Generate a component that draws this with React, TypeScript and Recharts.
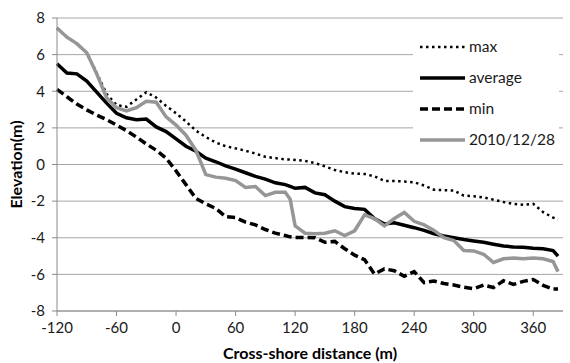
import { LineChart, Line, XAxis, YAxis, CartesianGrid, Legend } from "recharts"

const distance = [
  -120, -110, -100, -90, -80, -70, -60, -50, -40, -30, -20, -10, 0, 10, 20, 30, 40, 50, 60, 70, 80, 90, 100, 110, 115,
  120, 130, 140, 150, 160, 170, 180, 190, 200, 210, 220, 230, 240, 250, 260, 270, 280, 290, 300, 310, 320, 330, 340,
  350, 360, 370, 380, 385,
]

const maxElev = [
  7.45, 6.95, 6.6, 6.1, 5.0, 3.85, 3.25, 3.15, 3.55, 3.95, 3.65, 3.2, 2.8, 2.35, 1.85, 1.5, 1.2, 1.0, 0.88, 0.75, 0.6,
  0.42, 0.35, 0.28, 0.27, 0.25, 0.2, 0.08, -0.1, -0.3, -0.42, -0.5, -0.52, -0.65, -0.9, -0.9, -0.93, -0.97, -1.15,
  -1.38, -1.4, -1.42, -1.7, -1.73, -1.8, -1.92, -2.05, -2.15, -2.2, -2.15, -2.6, -2.9, -3.0,
]

const avgElev = [
  5.5, 5.0, 4.95, 4.55, 3.95, 3.35, 2.8, 2.55, 2.45, 2.48, 2.05, 1.8, 1.4, 1.0, 0.72, 0.35, 0.15, -0.08, -0.25, -0.45,
  -0.65, -0.8, -1.0, -1.1, -1.2, -1.3, -1.25, -1.55, -1.65, -2.0, -2.3, -2.4, -2.45, -2.95, -3.25, -3.18, -3.32, -3.45,
  -3.6, -3.78, -3.9, -4.0, -4.1, -4.18, -4.25, -4.35, -4.45, -4.5, -4.52, -4.57, -4.6, -4.7, -5.0,
]

const minElev = [
  4.1, 3.7, 3.3, 2.98, 2.7, 2.45, 2.15, 1.85, 1.5, 1.12, 0.78, 0.35, -0.35, -1.1, -1.85, -2.15, -2.4, -2.85, -2.9,
  -3.15, -3.3, -3.55, -3.75, -3.88, -3.95, -3.98, -3.98, -4.0, -4.25, -4.2, -4.6, -4.95, -5.2, -5.98, -5.7, -5.8, -6.1,
  -5.85, -6.45, -6.36, -6.5, -6.58, -6.7, -6.78, -6.58, -6.72, -6.35, -6.55, -6.38, -6.28, -6.6, -6.8, -6.8,
]

const survey20101228 = [
  7.45, 6.95, 6.6, 6.1, 4.95, 3.65, 3.1, 2.93, 3.1, 3.45, 3.4, 2.6, 2.15, 1.6, 0.77, -0.55, -0.69, -0.75, -0.88, -1.25,
  -1.2, -1.7, -1.52, -1.52, -1.9, -3.35, -3.75, -3.78, -3.75, -3.62, -3.88, -3.62, -2.75, -2.95, -3.35, -2.95, -2.62,
  -3.1, -3.3, -3.6, -4.0, -4.15, -4.7, -4.72, -4.9, -5.35, -5.15, -5.1, -5.15, -5.1, -5.15, -5.3, -5.85,
]

const xTicks = [-120, -60, 0, 60, 120, 180, 240, 300, 360]
const yTicks = [-8, -6, -4, -2, 0, 2, 4, 6, 8]

const data = distance.map((x, i) => ({
  x,
  max: maxElev[i],
  average: avgElev[i],
  min: minElev[i],
  survey: survey20101228[i],
}))

const FONT = "Lato, 'Open Sans', sans-serif"
const tickStyle = { fontSize: 15, fill: "#1a1a1a", fontFamily: FONT }
const titleStyle = { fontSize: 16, fontWeight: 700, fill: "#000", fontFamily: FONT }

const legendItems = [
  { label: "max", color: "#000", width: 2.5, dash: "2.5 3.5" },
  { label: "average", color: "#000", width: 3.5, dash: undefined },
  { label: "min", color: "#000", width: 3.5, dash: "8 4" },
  { label: "2010/12/28", color: "#969696", width: 3.5, dash: undefined },
]

function ChartLegend() {
  return (
    <svg width={146} height={128} style={{ display: "block" }}>
      {legendItems.map((item, i) => {
        const y = 19 + i * 31
        return (
          <g key={item.label}>
            <line x1={7} x2={52} y1={y} y2={y} stroke={item.color} strokeWidth={item.width} strokeDasharray={item.dash} />
            <text x={56} y={y + 5} fontSize={15.5} fontFamily={FONT} fill="#1a1a1a">
              {item.label}
            </text>
          </g>
        )
      })}
    </svg>
  )
}

function YTitle(props: any) {
  const vb = props.viewBox || { x: 0, y: 0, height: 0 }
  const cx = 15
  const cy = vb.y + vb.height / 2
  return (
    <text x={cx} y={cy} transform={`rotate(-90, ${cx}, ${cy})`} textAnchor="middle" dominantBaseline="central" style={titleStyle}>
      Elevation(m)
    </text>
  )
}

export default function App() {
  return (
    <div style={{ position: "fixed", left: 0, top: 0, width: 570, height: 363, background: "#fff" }}>
      <LineChart width={570} height={363} data={data} margin={{ top: 18, right: 7, left: 0, bottom: 0 }}>
        <CartesianGrid vertical={false} stroke="#a6a6a6" strokeWidth={1} />
        <XAxis
          dataKey="x"
          type="number"
          domain={[-120, 390]}
          ticks={xTicks}
          interval={0}
          height={52}
          tickSize={5}
          tickMargin={6}
          stroke="#8c8c8c"
          tick={tickStyle}
          label={{ value: "Cross-shore distance (m)", position: "insideBottom", offset: 4, style: titleStyle }}
        />
        <YAxis
          type="number"
          domain={[-8, 8]}
          ticks={yTicks}
          interval={0}
          width={57}
          tickSize={5}
          tickMargin={7}
          stroke="#8c8c8c"
          tick={tickStyle}
          label={<YTitle />}
        />
        <Legend
          layout="vertical"
          align="center"
          verticalAlign="middle"
          content={() => <ChartLegend />}
          wrapperStyle={{ left: 413, top: 28, width: 146, height: 128, background: "#fff" }}
        />
        <Line dataKey="max" stroke="#000" strokeWidth={2.5} strokeDasharray="2.5 3.5" dot={false} isAnimationActive={false} />
        <Line dataKey="average" stroke="#000" strokeWidth={3.5} dot={false} isAnimationActive={false} />
        <Line dataKey="min" stroke="#000" strokeWidth={3.5} strokeDasharray="8 4" dot={false} isAnimationActive={false} />
        <Line dataKey="survey" stroke="#969696" strokeWidth={3.5} dot={false} isAnimationActive={false} />
      </LineChart>
    </div>
  )
}
